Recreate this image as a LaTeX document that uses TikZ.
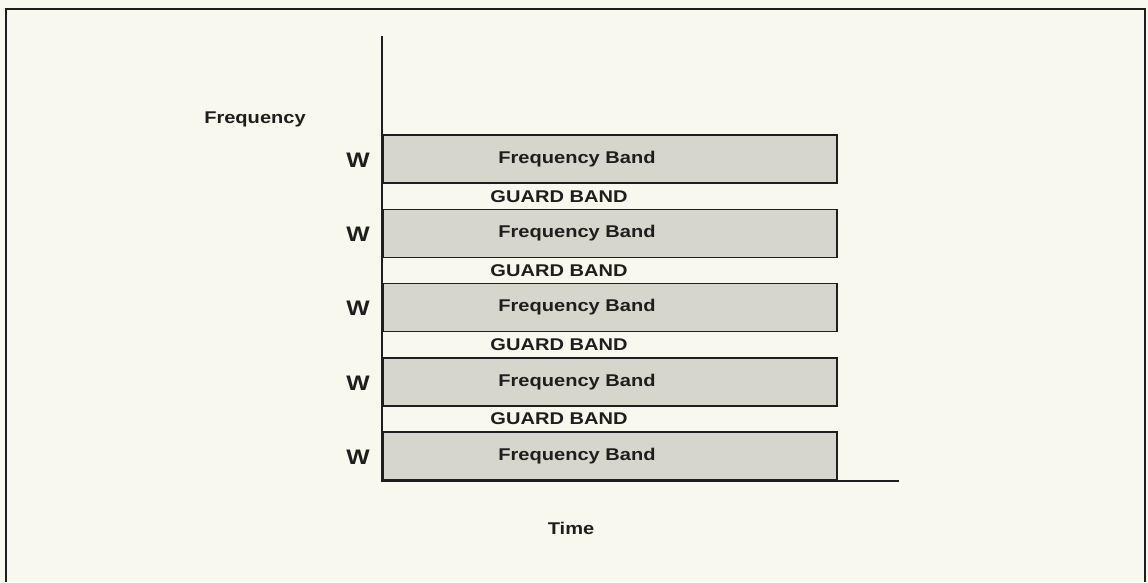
\documentclass[tikz,border=0pt]{standalone}
\usepackage{fontspec}
\setmainfont{Liberation Sans}[FakeStretch=1.18]
\definecolor{bgc}{RGB}{248,248,238}
\definecolor{bandfill}{RGB}{214,214,205}
\definecolor{inkc}{RGB}{30,30,30}
\tikzset{
  bandbox/.style={draw=inkc, line width=1.8pt, fill=bandfill, minimum width=454pt, minimum height=48pt, inner sep=0pt, anchor=west},
  lbl/.style={font=\fontsize{17}{20}\selectfont\bfseries, text=inkc, inner sep=0pt},
  wlbl/.style={font=\fontsize{21}{24}\selectfont\bfseries, text=inkc, inner sep=0pt},
  axisline/.style={draw=inkc, line width=1.8pt},
  framel/.style={draw=inkc, line width=2.4pt}
}
\begin{document}
\begin{tikzpicture}[x=1pt,y=-1pt]
\useasboundingbox (0,0) rectangle (1148,582);
\fill[bgc] (0,0) rectangle (1148,582);
\draw[framel] (6,582) -- (6,9) -- (1145,9) -- (1145,582);

\foreach \i/\y in {1/159,2/233.5,3/307.5,4/382,5/456}{
  \node[bandbox] (b\i) at (382,\y) {};
  \node[lbl] (t\i) at (577,\y) {Frequency Band};
  \node[wlbl] (w\i) at (358,\y+1) {W};
}
\foreach \i/\y in {1/196.5,2/270.5,3/345,4/419}{
  \node[lbl] (g\i) at (559,\y) {GUARD BAND};
}

\coordinate (ytop) at (382,36);
\coordinate (org) at (382,481);
\coordinate (xend) at (899,481);
\draw[axisline] (ytop) -- (org) -- (xend);

\node[lbl] (flabel) at (255,119) {Frequency};
\node[lbl] (tlabel) at (571,528) {Time};
\end{tikzpicture}
\end{document}
